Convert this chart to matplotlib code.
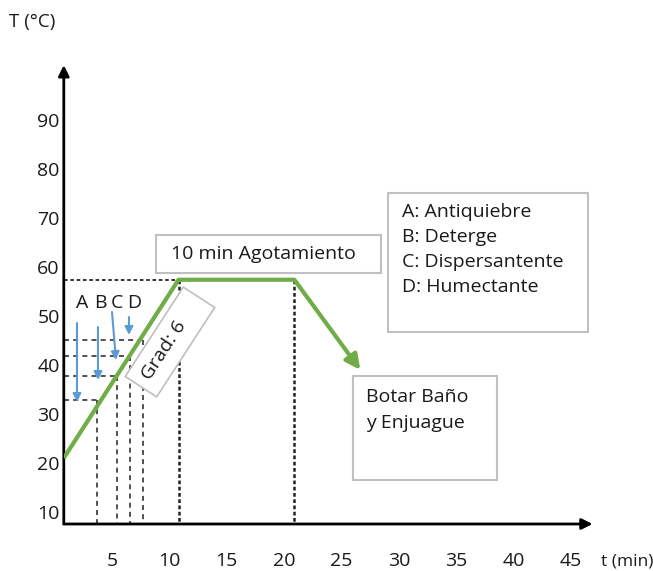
import matplotlib
matplotlib.use("Agg")
import matplotlib.pyplot as plt
from matplotlib.patches import Rectangle

plt.rcParams['font.family'] = ['Open Sans', 'DejaVu Sans']

# ---- data ----
profile_t = [0.8, 10.8, 20.9]
profile_T = [21.0, 57.4, 57.4]
drain_t = 26.65
drain_T = 39.0
add_labels = ['A', 'B', 'C', 'D']
add_t = [3.7, 5.4, 6.6, 7.7]
add_T = [32.8, 37.7, 41.9, 45.0]
x_ticks = [5, 10, 15, 20, 25, 30, 35, 40, 45]
y_ticks = [10, 20, 30, 40, 50, 60, 70, 80, 90]
legend_lines = ['A: Antiquiebre', 'B: Deterge', 'C: Dispersantente', 'D: Humectante']

W, H = 653, 571
fig = plt.figure(figsize=(W / 100, H / 100), dpi=100)
FS = 14
FT = 14
FA = 12.5

def fx(px):
    return px / W

def fy(py):
    return 1 - py / H

x0_px, x1_px = 63.8, 599.5
y0_px, y1_px = 524, 61.2
ax = fig.add_axes([fx(x0_px), fy(y0_px), fx(x1_px - x0_px), (y0_px - y1_px) / H])
ax.set_xlim(0.8, 47.5)
ax.set_ylim(7.55, 102)
for s in ax.spines.values():
    s.set_visible(False)
ax.patch.set_alpha(0)

TXT = '#1a1a1a'
GREEN = '#70ad47'
BLUE = '#5b9bd5'

ax.set_xticks(x_ticks)
ax.set_xticklabels([str(v) for v in x_ticks])
ax.set_yticks(y_ticks)
ax.set_yticklabels([str(v) for v in y_ticks])
ax.tick_params(axis='x', length=0, pad=20, labelsize=FT, labelcolor=TXT)
ax.tick_params(axis='y', length=0, pad=3, labelsize=FT, labelcolor=TXT)

ax.annotate('', xy=(46.9, 7.55), xytext=(0.8, 7.55),
            arrowprops=dict(arrowstyle='-|>', lw=2, color='black', mutation_scale=16,
                            shrinkA=0, shrinkB=0), annotation_clip=False)
ax.annotate('', xy=(0.8, 101.2), xytext=(0.8, 7.55),
            arrowprops=dict(arrowstyle='-|>', lw=2, color='black', mutation_scale=16,
                            shrinkA=0, shrinkB=0), annotation_clip=False)

for t, T in zip(add_t, add_T):
    ax.plot([0.8, t], [T, T], color='#333333', lw=1.2, ls=(0, (3, 2.5)), zorder=2)
    ax.plot([t, t], [T, 7.55], color='#333333', lw=1.2, ls=(0, (3, 2.5)), zorder=2)

ax.plot([0.8, profile_t[1]], [profile_T[1], profile_T[1]], color='#222222', lw=1.3,
        ls=(0, (2, 1.5)), zorder=2)
for t in profile_t[1:]:
    ax.plot([t, t], [profile_T[1], 7.55], color='#222222', lw=1.8,
            ls=(0, (1.5, 1)), zorder=2)

ax.plot(profile_t, profile_T, color=GREEN, lw=3, solid_capstyle='butt', zorder=4)
ax.annotate('', xy=(drain_t, drain_T), xytext=(profile_t[-1], profile_T[-1]),
            arrowprops=dict(arrowstyle='-|>', lw=3, color=GREEN, mutation_scale=22,
                            shrinkA=0, shrinkB=0), zorder=4)

def tx(px):
    return 5 + (px - 112) / 11.47

def ty(py):
    return 60 + (267 - py) / 4.9

arrows_px = [((77, 323), (77, 402)), ((98, 327), (98, 380)),
             ((112, 312), (116, 360)), ((129, 317), (129, 335))]
for (a, b) in arrows_px:
    ax.annotate('', xy=(tx(b[0]), ty(b[1])), xytext=(tx(a[0]), ty(a[1])),
                arrowprops=dict(arrowstyle='-|>', lw=1.5, color=BLUE, mutation_scale=12,
                                shrinkA=0, shrinkB=0), zorder=5)
for lab, px in zip(add_labels, [82, 100, 117, 134]):
    ax.text(tx(px), ty(303), lab, ha='center', va='center', fontsize=FS, color=TXT)

ax.text(tx(170), ty(342), 'Grad: 6    ', rotation=57, ha='center', va='center',
        fontsize=FS, color=TXT, rotation_mode='anchor',
        bbox=dict(boxstyle='square,pad=0.5', fc='white', ec='#bfbfbf', lw=1.2), zorder=6)

def box(x0, y0, x1, y1):
    r = Rectangle((fx(x0), fy(y1)), fx(x1 - x0), (y1 - y0) / H, transform=fig.transFigure,
                  fc='white', ec='#c0c0c0', lw=1.5, zorder=7)
    fig.add_artist(r)

box(156, 235, 381, 273)
fig.text(fx(171), fy(254), '10 min Agotamiento', ha='left', va='center', fontsize=FS,
         color=TXT, zorder=8)

box(388, 193, 588, 332)
for i, line in enumerate(legend_lines):
    fig.text(fx(402), fy(212 + 25 * i), line, ha='left', va='center', fontsize=FS,
             color=TXT, zorder=8)

box(353, 376, 497, 480)
fig.text(fx(366), fy(397), 'Botar Baño', ha='left', va='center', fontsize=FS, color=TXT, zorder=8)
fig.text(fx(366), fy(423), 'y Enjuague', ha='left', va='center', fontsize=FS, color=TXT, zorder=8)

fig.text(fx(9), fy(22), 'T (°C)', ha='left', va='center', fontsize=FA + 1, color=TXT)
fig.text(fx(601), fy(561), 't (min)', ha='left', va='center', fontsize=FA, color=TXT)

fig.savefig('out.png', dpi=100, facecolor='white')
